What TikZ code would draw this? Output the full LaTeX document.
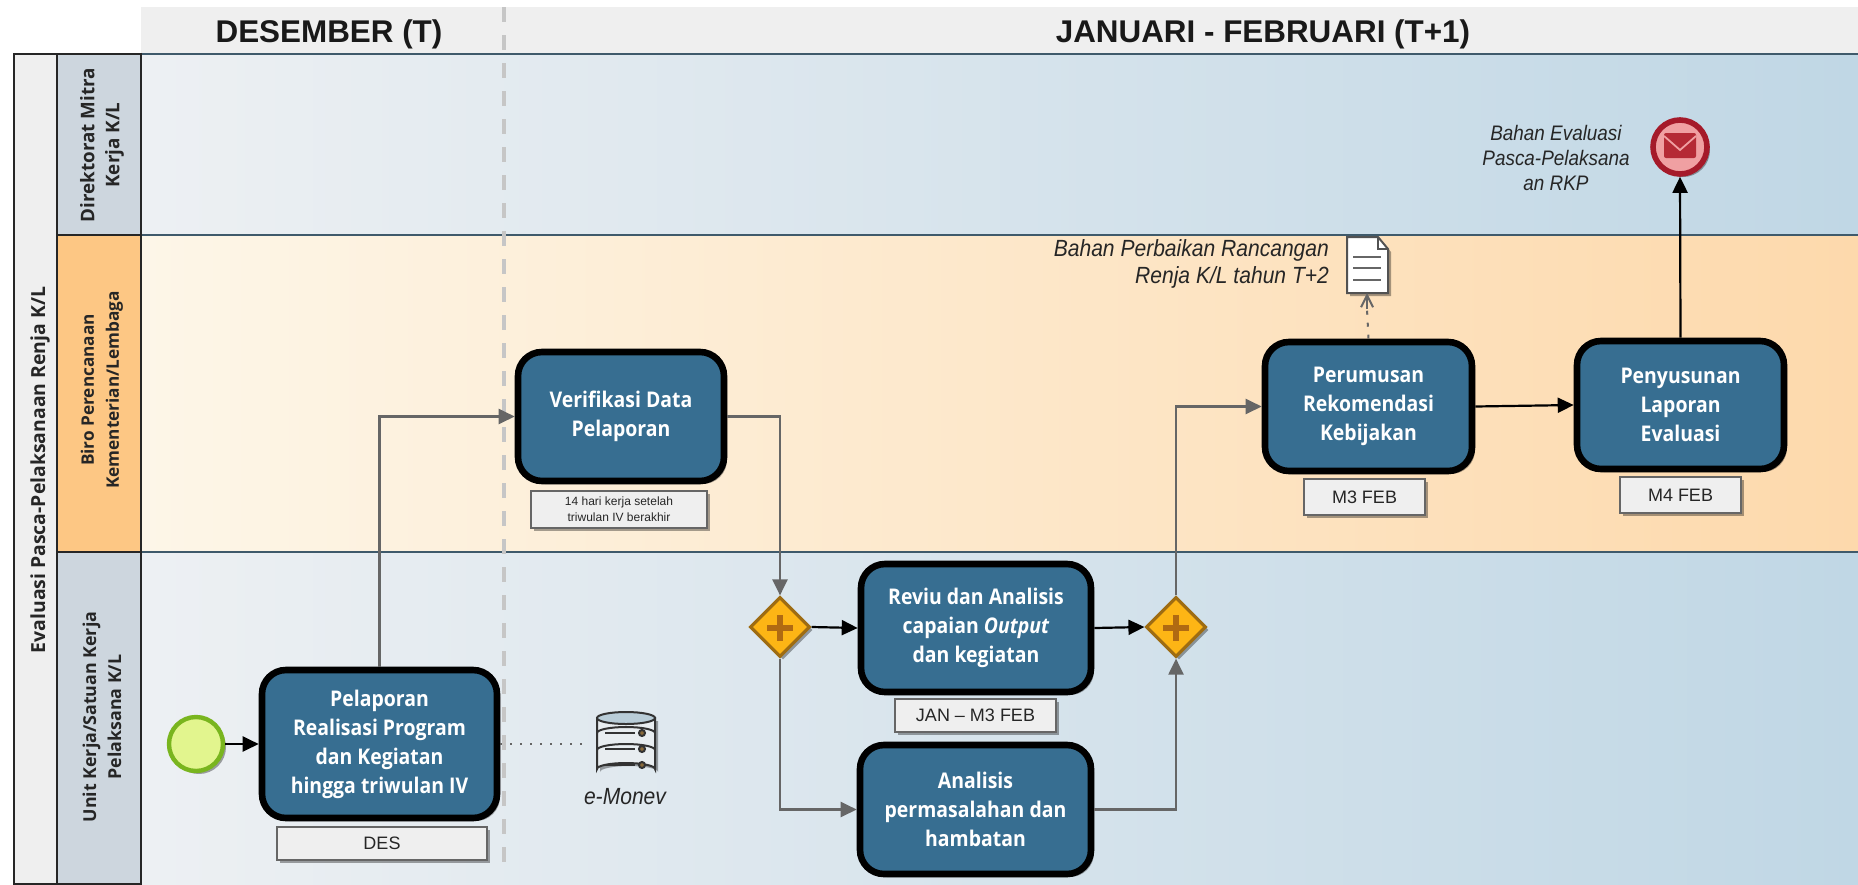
\documentclass[tikz,border=0pt]{standalone}
\usepackage{fontspec}
\setmainfont{Liberation Sans}
\newfontfamily\boxfont[FakeStretch=0.9]{Open Sans}
\newfontfamily\lanefont{Open Sans}
\newfontfamily\annotfont[FakeStretch=0.9]{Liberation Sans}
\usetikzlibrary{arrows.meta,shapes.geometric,shadows,calc}
\definecolor{laneA}{HTML}{EDF0F3}
\definecolor{laneB}{HTML}{C0D7E5}
\definecolor{orgA}{HTML}{FDF6E8}
\definecolor{orgB}{HTML}{FDD9AC}
\definecolor{headgray}{HTML}{CDD6DE}
\definecolor{headorg}{HTML}{FDC784}
\definecolor{pale}{HTML}{EFEFEF}
\definecolor{taskblue}{HTML}{376E91}
\definecolor{sepline}{HTML}{3F5A6B}
\definecolor{flowgray}{HTML}{666666}
\definecolor{dashgray}{HTML}{C6C6C6}
\definecolor{gateyellow}{HTML}{FDB515}
\definecolor{gateedge}{HTML}{9E6C12}
\definecolor{plusbrown}{HTML}{B06A12}
\definecolor{startfill}{HTML}{E2F58E}
\definecolor{startedge}{HTML}{79B51E}
\definecolor{endfill}{HTML}{F0A0A2}
\definecolor{endred}{HTML}{A51A2A}
\definecolor{mailred}{HTML}{B52A35}
\definecolor{dbtop}{HTML}{B9CDD8}
\definecolor{dbbody}{HTML}{E8EDF0}
\definecolor{dbdot}{HTML}{8A6A3A}
\tikzset{
  softshadow/.style={drop shadow={shadow xshift=1.5pt,shadow yshift=-1.5pt,opacity=.35,fill=black}},
  taskbox/.style={draw=black,line width=3.3pt,rounded corners=12pt,fill=taskblue,text=white,align=center,
    font=\boxfont\bfseries\fontsize{10.8}{14.5}\selectfont,softshadow,inner sep=0pt,
    execute at begin node={\rule{0pt}{14pt}}},
  notebox/.style={draw=flowgray,line width=.8pt,fill=pale,text=black!85,align=center,inner sep=0pt,softshadow,
    font=\fontsize{9}{11}\selectfont},
  size/.style 2 args={minimum width=#1*0.5pt,minimum height=#2*0.5pt},
  gate/.style={diamond,aspect=1,draw=gateedge,line width=1.6pt,fill=gateyellow,minimum width=30pt,minimum height=30pt,inner sep=0pt,softshadow},
  lanehead/.style={draw=black!85,line width=.9pt},
  lanetext/.style={rotate=90,align=center,font=\lanefont\bfseries\fontsize{8.6}{12.5}\selectfont,text=black!85},
  seqblack/.style={draw=black,line width=1.1pt,-{Triangle[length=8pt,width=7.5pt]}},
  seqgray/.style={draw=flowgray,line width=1.1pt,-{Triangle[length=8pt,width=7.5pt,fill=flowgray]}},
  annot/.style={font=\annotfont\itshape\fontsize{11.7}{13.5}\selectfont,text=black!85,align=center},
  periodhead/.style={font=\bfseries\fontsize{15.7}{18}\selectfont,text=black!90},
}
\begin{document}
\begin{tikzpicture}[x=0.5pt,y=-0.5pt]
\useasboundingbox (0,0) rectangle (1858,884);
% header
\fill[pale] (141,7) rectangle (1858,54);
% lanes
\shade[left color=laneA,right color=laneB] (141,54) rectangle (1858,235);
\shade[left color=orgA,right color=orgB] (141,235) rectangle (1858,552);
\shade[left color=laneA,right color=laneB] (141,552) rectangle (1858,884);
\draw[sepline,line width=1pt] (141,54) -- (1858,54) (141,235) -- (1858,235) (141,552) -- (1858,552);
% pool
\path[lanehead,fill=pale] (14,54) rectangle (57,884);
\path[lanehead,fill=headgray] (57,54) rectangle (141,235);
\path[lanehead,fill=headorg] (57,235) rectangle (141,552);
\path[lanehead,fill=headgray] (57,552) rectangle (141,884);
\node[lanetext,font=\lanefont\bfseries\fontsize{9.7}{12}\selectfont] (pooltitle) at (40,470) {Evaluasi Pasca-Pelaksanaan Renja K/L};
\node[lanetext,font=\lanefont\bfseries\fontsize{9.4}{12.5}\selectfont] (lanea) at (102,145) {Direktorat Mitra\\Kerja K/L};
\node[lanetext] (laneb) at (102,390) {Biro Perencanaan\\Kementerian/Lembaga};
\node[lanetext,font=\lanefont\bfseries\fontsize{8.9}{12.5}\selectfont] (lanec) at (102,717) {Unit Kerja/Satuan Kerja\\Pelaksana K/L};
% period headers
\node[periodhead] (des) at (329,34) {DESEMBER (T)};
\node[periodhead] (jan) at (1263,34) {JANUARI - FEBRUARI (T+1)};
\draw[dashgray,line width=2pt,dash pattern=on 7.5pt off 6.5pt] (504,7) -- (504,873);
% tasks
\node[taskbox,size={235}{148}] (pelaporan) at (379.5,744) {Pelaporan\\Realisasi Program\\dan Kegiatan\\hingga triwulan IV};
\node[taskbox,size={206}{129}] (verif) at (621,416.5) {Verifikasi Data\\Pelaporan};
\node[taskbox,size={230}{128}] (reviu) at (976,628) {Reviu dan Analisis\\capaian \textit{Output}\\dan kegiatan};
\node[taskbox,size={231}{129}] (analisis) at (975.5,809.5) {Analisis\\permasalahan dan\\hambatan};
\node[taskbox,size={207}{129}] (perumusan) at (1368.5,406.5) {Perumusan\\Rekomendasi\\Kebijakan};
\node[taskbox,size={207}{128}] (penyusunan) at (1680.5,405) {Penyusunan\\Laporan\\Evaluasi};
% notes
\node[notebox,size={210}{33}] (noteDes) at (382,843.5) {DES};
\node[notebox,size={176}{37},font=\fontsize{6}{8}\selectfont] (noteVer) at (619,509.5) {14 hari kerja setelah\\triwulan IV berakhir};
\node[notebox,size={161}{33}] (noteJan) at (975.5,715.5) {JAN – M3 FEB};
\node[notebox,size={121}{36}] (noteM3) at (1364.5,497) {M3 FEB};
\node[notebox,size={121}{36}] (noteM4) at (1680.5,495) {M4 FEB};
% events
\node[circle,draw=startedge,line width=2.2pt,fill=startfill,minimum size=27pt,inner sep=0pt,softshadow] (start) at (196,744) {};
\node[circle,draw=endred,line width=2.8pt,fill=endfill,minimum size=27pt,inner sep=0pt,softshadow] (end) at (1680,147) {};
% gateways
\node[gate] (gwa) at (780,627) {};
\node[gate] (gwb) at (1176,627) {};
% plus signs
\foreach \c in {gwa,gwb}{
  \draw[plusbrown,line width=2.8pt] ($(\c)+(-13,1)$) -- ($(\c)+(13,1)$) ($(\c)+(0,-12)$) -- ($(\c)+(0,14)$);
}
% mail icon
\fill[mailred,rounded corners=1pt] (1664,133) rectangle (1696,158);
\draw[endfill,line width=.9pt] (1664,136) -- (1680,150) -- (1696,136);
% document
\coordinate (docbottom) at (1367,293);
\draw[flowgray!80!black,line width=1pt,fill=white,softshadow] (1347,237) -- (1378,237) -- (1388,249) -- (1388,293) -- (1347,293) -- cycle;
\draw[flowgray!80!black,line width=.7pt] (1378,237) -- (1378,249) -- (1388,249);
\draw[flowgray,line width=1pt] (1353,257) -- (1381,257) (1353,268) -- (1381,268) (1353,280) -- (1381,280);
% database
\coordinate (dbleft) at (587,744);
\begin{scope}[line width=1pt,draw=black!80]
  \draw[fill=dbbody,softshadow] (597,718) -- (597,769) arc[start angle=180,end angle=360,x radius=29,y radius=6] -- (655,718) -- cycle;
  \draw (597,733) arc[start angle=180,end angle=360,x radius=29,y radius=6];
  \draw (597,750) arc[start angle=180,end angle=360,x radius=29,y radius=6];
  \draw[fill=dbtop] (626,718) ellipse[x radius=29,y radius=6];
  \foreach \yy in {733,749,765}{
    \draw[line width=1.2pt] (605,\yy) -- (635,\yy);
    \draw[fill=dbdot] (642,\yy) circle[radius=3];
  }
\end{scope}
% connectors
\draw[seqblack] (start) -- (pelaporan);
\draw[seqgray] (pelaporan.north) |- (verif.west);
\draw[seqgray] (verif.east) -| (gwa.north);
\draw[seqblack] (gwa.east) -- (reviu.west);
\draw[seqgray] (gwa.south) |- (analisis.west);
\draw[seqblack] (reviu.east) -- (gwb.west);
\draw[seqgray] (analisis.east) -| (gwb.south);
\draw[seqgray] (gwb.north) |- (perumusan.west);
\draw[seqblack] (perumusan.east) -- (penyusunan.west);
\draw[seqblack] (penyusunan.north) -- (end.south);
\draw[flowgray,line width=1pt,dash pattern=on 1pt off 4pt] (pelaporan.east) -- (dbleft);
\draw[flowgray,line width=1pt,dash pattern=on 2pt off 4pt] (perumusan.north) -- ($(docbottom)+(0,16)$);
\draw[flowgray,line width=1pt,-{Straight Barb[length=6pt,width=6pt]}] ($(docbottom)+(0,16)$) -- (docbottom);
% annotations
\node[annot,anchor=east,align=right] (annotdoc) at (1336,263.5) {Bahan Perbaikan Rancangan\\Renja K/L tahun T+2};
\node[annot,font=\annotfont\itshape\fontsize{10.5}{12.7}\selectfont] (annotend) at (1556,158) {Bahan Evaluasi\\Pasca-Pelaksana\\an RKP};
\node[annot] (annotdb) at (625,797) {e-Monev};
\end{tikzpicture}
\end{document}
